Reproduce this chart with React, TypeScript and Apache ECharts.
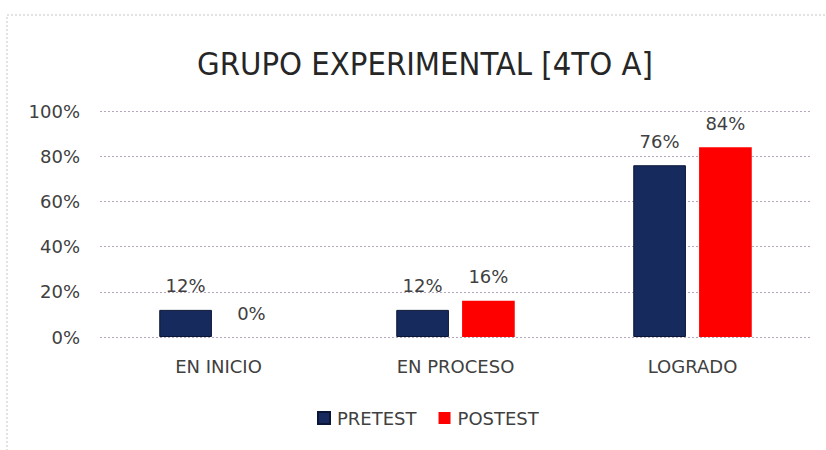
import React, { useEffect, useRef } from "react";
import * as echarts from "echarts";

const categories = ["EN INICIO", "EN PROCESO", "LOGRADO"];
const pretest = [12, 12, 76];
const postest = [0, 16, 84];
const yTicks = [0, 20, 40, 60, 80, 100];

export default function App() {
  const ref = useRef<HTMLDivElement>(null);
  useEffect(() => {
    const chart = echarts.init(ref.current!, null, { renderer: "svg" });
    const labelStyle = {
      show: true,
      position: "top" as const,
      formatter: "{c}%",
      fontSize: 18,
      color: "#404040",
      fontFamily: "DejaVu Sans",
      distance: 15,
    };
    chart.setOption({
      animation: false,
      backgroundColor: "#ffffff",
      graphic: [
        {
          type: "rect",
          shape: { x: 7, y: 15, width: 840, height: 460 },
          style: { fill: "none", stroke: "#c8c8c8", lineWidth: 1, lineDash: [2, 2] },
          silent: true,
        },
      ],
      title: {
        text: "GRUPO EXPERIMENTAL [4TO A]",
        left: 192,
        top: 42,
        textStyle: {
          fontFamily: "DejaVu Sans Condensed",
          fontWeight: "normal",
          fontSize: 32.5,
          color: "#262626",
        },
      },
      legend: {
        bottom: 18,
        left: 312,
        itemWidth: 12,
        itemHeight: 12,
        itemGap: 22,
        icon: "rect",
        textStyle: { fontSize: 18, color: "#404040", fontFamily: "DejaVu Sans", padding: [0, 0, 0, 2] },
        data: ["PRETEST", "POSTEST"],
      },
      grid: { left: 100, right: 15, top: 111, bottom: 113 },
      xAxis: {
        type: "category",
        data: categories,
        axisLine: { show: false },
        axisTick: { show: false },
        axisLabel: {
          fontSize: 18,
          color: "#404040",
          margin: 20,
          fontFamily: "DejaVu Sans",
        },
      },
      yAxis: {
        type: "value",
        min: yTicks[0],
        max: yTicks[yTicks.length - 1],
        interval: 20,
        axisLine: { show: false },
        axisTick: { show: false },
        axisLabel: {
          formatter: "{value}%",
          fontSize: 18,
          color: "#404040",
          margin: 20,
          fontFamily: "DejaVu Sans",
        },
        splitLine: { lineStyle: { color: "#b4a6bc", type: [2, 2], width: 1 } },
      },
      series: [
        {
          name: "PRETEST",
          type: "bar",
          data: pretest,
          barGap: "25%",
          barCategoryGap: "50%",
          itemStyle: { color: "#172a5e", borderColor: "#0b1636", borderWidth: 1 },
          label: labelStyle,
        },
        {
          name: "POSTEST",
          type: "bar",
          data: postest,
          itemStyle: { color: "#ff0000" },
          label: labelStyle,
        },
      ],
    });
    return () => chart.dispose();
  }, []);
  return (
    <div
      ref={ref}
      style={{ position: "fixed", left: 0, top: 0, width: 826, height: 450 }}
    />
  );
}
